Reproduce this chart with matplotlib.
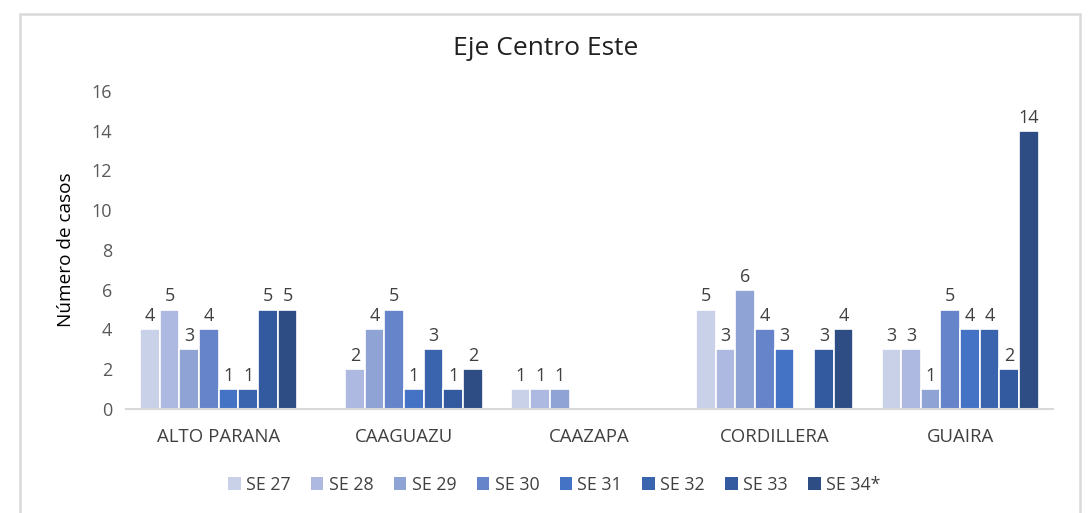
import matplotlib
matplotlib.use("Agg")
import matplotlib.pyplot as plt
import numpy as np
from matplotlib.patches import Rectangle

plt.rcParams['font.family'] = ['Open Sans', 'DejaVu Sans']

categories = ["ALTO PARANA", "CAAGUAZU", "CAAZAPA", "CORDILLERA", "GUAIRA"]
series_names = ["SE 27", "SE 28", "SE 29", "SE 30", "SE 31", "SE 32", "SE 33", "SE 34*"]
# None = no bar / no label
se27 = [4, None, 1, 5, 3]
se28 = [5, 2, 1, 3, 3]
se29 = [3, 4, 1, 6, 1]
se30 = [4, 5, None, 4, 5]
se31 = [1, 1, None, 3, 4]
se32 = [1, 3, None, None, 4]
se33 = [5, 1, None, 3, 2]
se34 = [5, 2, None, 4, 14]
series_values = [se27, se28, se29, se30, se31, se32, se33, se34]
colors = ["#C9D1E8", "#ADB9E0", "#8FA3D4", "#6584CA", "#4472C4", "#3A65AE", "#335A9E", "#2E4D85"]
yticks = [0, 2, 4, 6, 8, 10, 12, 14, 16]

fig = plt.figure(figsize=(10.91, 5.13), dpi=100)
ax = fig.add_axes([0.1155, 0.2027, 0.8495, 0.62])

n = len(series_names)
step = 0.106
x = np.arange(len(categories))
for i, (name, vals, c) in enumerate(zip(series_names, series_values, colors)):
    offs = (i - (n - 1) / 2) * step
    xs = [xi + offs for xi, v in zip(x, vals) if v is not None]
    vs = [v for v in vals if v is not None]
    bars = ax.bar(xs, vs, width=step, color=c, edgecolor="white", linewidth=1.2, label=name, zorder=2)
    for b, v in zip(bars, vs):
        ax.annotate(str(v), (b.get_x() + b.get_width() / 2, v), xytext=(0, 3),
                    textcoords="offset points", ha="center", va="bottom",
                    fontsize=13, color="#404040")

ax.set_xlim(-0.5, len(categories) - 0.5)
ax.set_ylim(0, 16)
ax.set_yticks(yticks)
ax.set_yticklabels([str(t) for t in yticks], fontsize=13, color="#595959")
ax.set_xticks(x)
ax.set_xticklabels(categories, fontsize=13.4, color="#404040")
ax.tick_params(axis="both", length=0)
ax.tick_params(axis="x", pad=14)
ax.tick_params(axis="y", pad=10)
for s in ["top", "right", "left"]:
    ax.spines[s].set_visible(False)
ax.spines["bottom"].set_color("#D9D9D9")
ax.spines["bottom"].set_linewidth(1.5)
ax.set_ylabel("Número de casos", fontsize=13.7, color="#000000", labelpad=12)

fig.text(0.5, 0.905, "Eje Centro Este", ha="center", va="center", fontsize=19, color="#202020")

leg = fig.legend(loc="center", bbox_to_anchor=(0.508, 0.055), ncol=8, frameon=False,
                 fontsize=12.8, handlelength=0.7, handleheight=0.7, handletextpad=0.3,
                 columnspacing=1.15)
for t in leg.get_texts():
    t.set_color("#404040")
for h in leg.legend_handles:
    h.set_edgecolor("none")

frame = Rectangle((20 / 1091, -0.05), 1060 / 1091, 1 - 14 / 513 + 0.05, transform=fig.transFigure,
                  fill=False, edgecolor="#D9D9D9", linewidth=1.8, clip_on=False)
fig.patches.append(frame)

fig.savefig("out.png", dpi=100)
